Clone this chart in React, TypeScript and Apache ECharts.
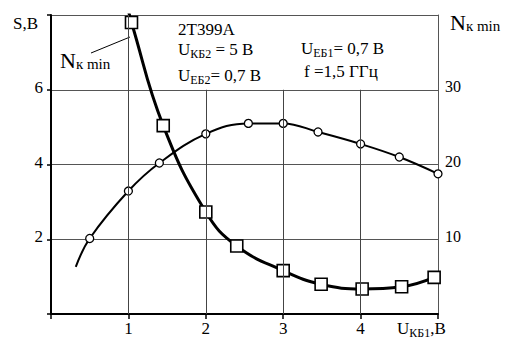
import React, { useEffect, useRef } from 'react';
import * as echarts from 'echarts';

// S curve (left axis, S, В)
const sX = [0.32, 0.5, 1.0, 1.4, 2.0, 2.55, 3.0, 3.45, 4.0, 4.5, 5.0];
const sY = [1.26, 2.02, 3.29, 4.04, 4.82, 5.1, 5.1, 4.87, 4.55, 4.2, 3.75];
const sMarked = [false, true, true, true, true, true, true, true, true, true, true];

// N curve (right axis, N к min)
const nX = [1.0, 1.04, 1.45, 2.0, 2.4, 3.0, 3.49, 4.02, 4.53, 4.95];
const nY = [40.6, 39, 25.2, 13.65, 9.1, 5.8, 3.97, 3.35, 3.65, 4.9];
const nMarked = [false, true, true, true, true, true, true, true, true, true];

// axes
const xMin = 0, xMax = 5, xStep = 1;
const xLabels = ['', '1', '2', '3', '4', ''];
const sMin = 0, sMax = 8, sStep = 2;
const sLabels = ['', '2', '4', '6', ''];
const nMin = 0, nMax = 40, nStep = 10;
const nLabels = ['', '10', '20', '30', ''];

// vertical grid lines: x position and top (in S units)
const vLineX = [1, 2, 3, 4];
const vLineTop = [8, 6, 6, 6];

const serif = 'Times New Roman';

export default function App() {
  const ref = useRef<HTMLDivElement>(null);
  useEffect(() => {
    if (!ref.current) return;
    const chart = echarts.init(ref.current, undefined, { renderer: 'svg' });
    const rich: any = {
      m: { fontSize: 17, fontFamily: serif, lineHeight: 21, fill: '#000', color: '#000' },
      s: { fontSize: 12, fontFamily: serif, lineHeight: 12, verticalAlign: 'bottom', fill: '#000', color: '#000' },
      M: { fontSize: 22, fontFamily: serif, lineHeight: 22, fill: '#000', color: '#000' },
      S: { fontSize: 15, fontFamily: serif, lineHeight: 18, verticalAlign: 'bottom', fill: '#000', color: '#000' },
      a: { fontSize: 17, fontFamily: serif, color: '#000' },
      r: { fontSize: 16, fontFamily: serif, color: '#000' },
    };
    const txt = (x: number, y: number, text: string) => ({
      type: 'text',
      x,
      y,
      silent: true,
      style: {
        text,
        rich,
        fill: '#000',
        fontSize: 17,
        fontFamily: serif,
        align: 'left',
        verticalAlign: 'middle',
        textAlign: 'left',
        textVerticalAlign: 'middle',
      },
    });
    const lab = (arr: string[], min: number, step: number, tok: string) => (v: number) => {
      const s = arr[Math.round((v - min) / step)] ?? '';
      return s ? `{${tok}|${s}}` : '';
    };
    chart.setOption({
      animation: false,
      backgroundColor: '#fff',
      textStyle: { fontFamily: serif },
      grid: { left: 51, top: 15, right: 75, bottom: 24, containLabel: false },
      xAxis: {
        type: 'value',
        min: xMin,
        max: xMax,
        interval: xStep,
        axisLine: { show: true, onZero: false, lineStyle: { color: '#000', width: 2 } },
        axisTick: { show: true, length: 5, lineStyle: { color: '#000', width: 1.5 } },
        axisLabel: {
          fontFamily: serif,
          fontSize: 17,
          color: '#000',
          margin: 6,
          rich,
          formatter: lab(xLabels, xMin, xStep, 'a'),
        },
        splitLine: { show: false },
      },
      yAxis: [
        {
          type: 'value',
          min: sMin,
          max: sMax,
          interval: sStep,
          position: 'left',
          axisLine: { show: true, onZero: false, lineStyle: { color: '#000', width: 2 } },
          axisTick: { show: true, length: 4, lineStyle: { color: '#000', width: 1.5 } },
          axisLabel: {
            fontFamily: serif,
            fontSize: 17,
            color: '#000',
            margin: 8,
            padding: [0, 0, 5, 0],
            rich,
            formatter: lab(sLabels, sMin, sStep, 'a'),
          },
          splitLine: { show: true, lineStyle: { color: '#555', width: 1 } },
        },
        {
          type: 'value',
          min: nMin,
          max: nMax,
          interval: nStep,
          position: 'right',
          axisLine: { show: true, onZero: false, lineStyle: { color: '#555', width: 1 } },
          axisTick: { show: false },
          axisLabel: {
            fontFamily: serif,
            fontSize: 16,
            color: '#000',
            margin: 7,
            padding: [0, 0, 6, 0],
            rich,
            formatter: lab(nLabels, nMin, nStep, 'r'),
          },
          splitLine: { show: false },
        },
      ],
      series: [
        {
          type: 'line',
          yAxisIndex: 0,
          data: [],
          z: 1,
          silent: true,
          markLine: {
            silent: true,
            symbol: 'none',
            label: { show: false },
            lineStyle: { color: '#444', width: 1, type: 'solid' },
            data: vLineX.map((x, i) => [{ coord: [x, sMin] }, { coord: [x, vLineTop[i]] }]),
          },
        },
        {
          type: 'line',
          yAxisIndex: 0,
          z: 3,
          smooth: 0.4,
          clip: true,
          lineStyle: { color: '#000', width: 2 },
          symbol: 'circle',
          symbolSize: 8,
          itemStyle: { color: '#fff', borderColor: '#000', borderWidth: 1.3 },
          data: sX.map((x, i) => ({
            value: [x, sY[i]],
            symbol: sMarked[i] ? 'circle' : 'none',
          })),
        },
        {
          type: 'line',
          yAxisIndex: 1,
          z: 4,
          smooth: 0.45,
          clip: true,
          lineStyle: { color: '#000', width: 3 },
          symbol: 'rect',
          symbolSize: 12,
          itemStyle: { color: '#fff', borderColor: '#000', borderWidth: 1.6 },
          data: nX.map((x, i) => ({
            value: [x, nY[i]],
            symbol: nMarked[i] ? 'rect' : 'none',
          })),
        },
      ],
      graphic: [
        txt(13, 23, '{a|S,В}'),
        txt(178, 29, '{m|2Т399А}'),
        txt(178, 49, '{m|U}{s|КБ2}{m| = 5 В}'),
        txt(178, 75, '{m|U}{s|ЕБ2}{m|= 0,7 В}'),
        txt(301, 48, '{m|U}{s|ЕБ1}{m|= 0,7 В}'),
        txt(304, 71, '{m|f =1,5 ГГц}'),
        txt(60, 60, '{M|N}{S|к min}'),
        txt(450, 22, '{M|N}{S|к min}'),
        txt(397, 328, '{m|U}{s|КБ1}{m|,В}'),
        {
          type: 'line',
          silent: true,
          shape: { x1: 91, y1: 53, x2: 130, y2: 37 },
          style: { stroke: '#000', lineWidth: 1 },
        },
      ],
    });
    return () => chart.dispose();
  }, []);
  return (
    <div
      ref={ref}
      style={{ position: 'absolute', left: 0, top: 0, width: 513, height: 338, background: '#fff' }}
    />
  );
}
